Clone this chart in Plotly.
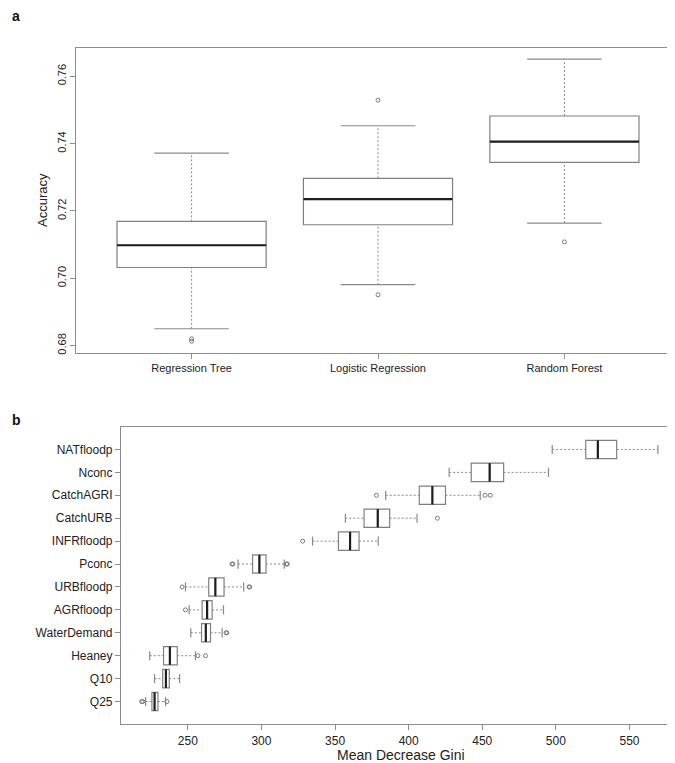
import plotly.graph_objects as go

# ---------------- Data: panel a ----------------
top_categories = ["Regression Tree", "Logistic Regression", "Random Forest"]
top_lower = [0.6850, 0.6981, 0.7164]
top_q1 = [0.7032, 0.7159, 0.7344]
top_median = [0.7098, 0.7235, 0.7406]
top_q3 = [0.7169, 0.7297, 0.7482]
top_upper = [0.7372, 0.7453, 0.7651]
top_outliers = [[0.6813, 0.6820], [0.6951, 0.7529], [0.7108]]
top_yticks = [0.68, 0.70, 0.72, 0.74, 0.76]

# ---------------- Data: panel b ----------------
variables = ["Q25", "Q10", "Heaney", "WaterDemand", "AGRfloodp", "URBfloodp",
             "Pconc", "INFRfloodp", "CatchURB", "CatchAGRI", "Nconc", "NATfloodp"]
var_lower = [221.3, 227.4, 224.1, 252.0, 250.9, 248.4, 284.1, 334.7, 357.0, 384.4, 427.5, 497.5]
var_q1 = [225.6, 232.9, 233.5, 259.3, 259.7, 264.2, 294.0, 352.3, 369.7, 407.2, 442.5, 520.3]
var_median = [227.4, 235.1, 237.8, 262.2, 263.1, 268.7, 298.6, 360.2, 379.0, 416.1, 455.0, 528.5]
var_q3 = [229.7, 237.4, 242.8, 265.4, 266.5, 274.6, 303.1, 366.3, 387.1, 425.0, 464.5, 541.3]
var_upper = [234.9, 244.4, 255.2, 273.3, 274.2, 287.9, 315.5, 379.3, 405.7, 448.6, 495.0, 569.3]
var_outliers = [[218.6, 219.4, 235.8], [], [256.8, 262.0], [276.0, 276.5], [248.4],
                [246.1, 291.6, 292.0], [280.0, 280.6, 317.0, 317.6], [328.0], [419.5],
                [378.1, 451.9, 455.4], [], []]
bottom_xticks = [250, 300, 350, 400, 450, 500, 550]

W, H = 675, 763
def px(x):
    return x / W
def py(y):
    return 1 - y / H

BOX_COL = "#808080"
WHISK_COL = "#8a8a8a"
MED_COL = "#1e1e1e"
AX_COL = "#8c8c8c"
TXT_COL = "#222222"
FONT = "Liberation Sans, Arial, sans-serif"

fig = go.Figure()

def add_panel(positions, lower, q1, med, q3, upper, outl, horizontal, xa, ya):
    box_kw = dict(q1=q1, median=med, q3=q3, lowerfence=q1, upperfence=q3,
                  width=0.8, fillcolor="white",
                  line=dict(color=BOX_COL, width=1.2),
                  boxpoints=False, whiskerwidth=0,
                  xaxis=xa, yaxis=ya, showlegend=False, hoverinfo="skip")
    if horizontal:
        fig.add_trace(go.Box(y=positions, orientation="h", **box_kw))
    else:
        fig.add_trace(go.Box(x=positions, **box_kw))
    # whiskers (dashed), caps, medians
    wa, wb, ca, cb, ma, mb = [], [], [], [], [], []
    for p, lo, a, m, b, hi in zip(positions, lower, q1, med, q3, upper):
        wa += [p, p, None, p, p, None]
        wb += [lo, a, None, b, hi, None]
        ca += [p - 0.2, p + 0.2, None, p - 0.2, p + 0.2, None]
        cb += [lo, lo, None, hi, hi, None]
        ma += [p - 0.4, p + 0.4, None]
        mb += [m, m, None]
    ox, oy = [], []
    for p, vals in zip(positions, outl):
        for v in vals:
            ox.append(p)
            oy.append(v)
    def xy(a, b):
        return (dict(x=b, y=a) if horizontal else dict(x=a, y=b))
    fig.add_trace(go.Scatter(**xy(wa, wb), mode="lines",
                             line=dict(color=WHISK_COL, width=1, dash="2px,2px"),
                             xaxis=xa, yaxis=ya, showlegend=False, hoverinfo="skip"))
    fig.add_trace(go.Scatter(**xy(ca, cb), mode="lines",
                             line=dict(color=WHISK_COL, width=1.2),
                             xaxis=xa, yaxis=ya, showlegend=False, hoverinfo="skip"))
    fig.add_trace(go.Scatter(**xy(ma, mb), mode="lines",
                             line=dict(color=MED_COL, width=2.2),
                             xaxis=xa, yaxis=ya, showlegend=False, hoverinfo="skip"))
    fig.add_trace(go.Scatter(**xy(ox, oy), mode="markers",
                             marker=dict(symbol="circle-open", size=4,
                                         color="#7a7a7a", line=dict(width=1)),
                             xaxis=xa, yaxis=ya, showlegend=False, hoverinfo="skip"))

top_pos = list(range(1, len(top_categories) + 1))
add_panel(top_pos, top_lower, top_q1, top_median, top_q3, top_upper, top_outliers,
          False, "x", "y")
bot_pos = list(range(1, len(variables) + 1))
add_panel(bot_pos, var_lower, var_q1, var_median, var_q3, var_upper, var_outliers,
          True, "x2", "y2")

axis_common = dict(showgrid=False, zeroline=False, showline=True, mirror=True,
                   linecolor=AX_COL, linewidth=1.2, ticks="outside", ticklen=5,
                   tickcolor=AX_COL, tickwidth=1.2,
                   tickfont=dict(family=FONT, size=11, color=TXT_COL))

fig.update_layout(
    width=W, height=H,
    margin=dict(l=0, r=0, t=0, b=0, autoexpand=False),
    paper_bgcolor="white", plot_bgcolor="white",
    font=dict(family=FONT, color=TXT_COL),
    xaxis=dict(axis_common, domain=[px(68), px(672)], range=[0.38, 3.62],
               tickvals=top_pos, ticktext=top_categories, anchor="y"),
    yaxis=dict(axis_common, domain=[py(345), py(40)], range=[0.6778, 0.7684],
               tickvals=top_yticks, ticktext=["%.2f" % v for v in top_yticks],
               tickangle=-90, anchor="x"),
    xaxis2=dict(axis_common, domain=[px(113), px(672)], range=[204.6, 584.3],
                tickvals=bottom_xticks, ticktext=[str(v) for v in bottom_xticks],
                anchor="y2", tickfont=dict(family=FONT, size=12, color=TXT_COL)),
    yaxis2=dict(axis_common, domain=[py(716), py(419)], range=[0.02, 12.98],
                tickvals=bot_pos, ticktext=variables, anchor="x2",
                tickfont=dict(family=FONT, size=12, color=TXT_COL)),
    annotations=[
        dict(text="<b>a</b>", x=px(2), y=py(8), xref="paper", yref="paper",
             xanchor="left", yanchor="middle", showarrow=False,
             font=dict(family=FONT, size=14, color="#111")),
        dict(text="<b>b</b>", x=px(2), y=py(412), xref="paper", yref="paper",
             xanchor="left", yanchor="middle", showarrow=False,
             font=dict(family=FONT, size=14, color="#111")),
        dict(text="Accuracy", x=px(35), y=py(192), xref="paper", yref="paper",
             xanchor="center", yanchor="middle", textangle=-90, showarrow=False,
             font=dict(family=FONT, size=13, color=TXT_COL)),
        dict(text="Mean Decrease Gini", x=px(392.5), y=py(747), xref="paper",
             yref="paper", xanchor="center", yanchor="middle", showarrow=False,
             font=dict(family=FONT, size=14, color=TXT_COL)),
    ],
)

fig.write_html("out.html")
